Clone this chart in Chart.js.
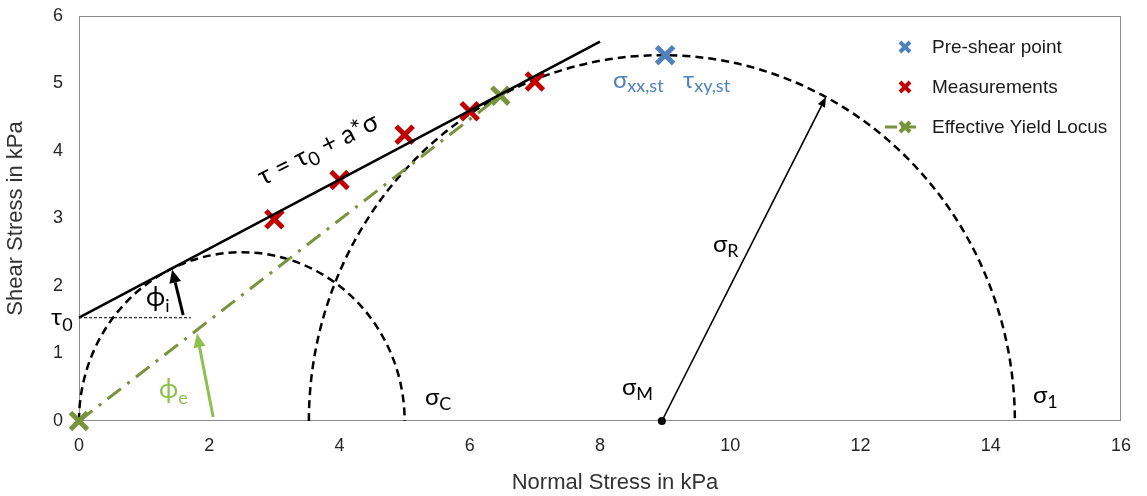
<!DOCTYPE html>
<html><head><meta charset="utf-8">
<script src="https://cdn.jsdelivr.net/npm/chart.js@4.4.1/dist/chart.umd.min.js"></script>
<style>html,body{margin:0;padding:0;background:#fff}#wrap{width:1147px;height:496px;position:relative}</style>
</head><body><div id="wrap"><canvas id="c"></canvas></div>
<script>
// ---- data ----
const preShearX = [9];
const preShearY = [5.42];
const measX = [3, 4, 5, 6, 7];
const measY = [2.99, 3.57, 4.24, 4.59, 5.03];
const eylX = [0, 6.47];
const eylY = [0, 4.82];
const fitX = [0, 8];
const fitY = [1.53, 5.62];
const circleCenters = [2.5, 8.95];
const circleRadii = [2.5, 5.42];
const xTickValues = [0, 2, 4, 6, 8, 10, 12, 14, 16];
const yTickValues = [0, 1, 2, 3, 4, 5, 6];
const seriesNames = ['Pre-shear point', 'Measurements', 'Effective Yield Locus'];
const xTitle = 'Normal Stress in kPa';
const yTitle = 'Shear Stress in kPa';

const BLUE = '#4f81bd', RED = '#c00000', GREEN = '#77933c', LGREEN = '#8fbf4f';
const GF = 'Lato, "Open Sans", sans-serif';
const AF = '"Liberation Sans", Arial, sans-serif';

function pts(xs, ys) { return xs.map((v, i) => ({ x: v, y: ys[i] })); }

function rich(ctx, x, y, segs, color) {
  ctx.fillStyle = color; ctx.textBaseline = 'alphabetic'; ctx.textAlign = 'left';
  let cx = x;
  segs.forEach(s => {
    ctx.font = s[1] + 'px ' + GF;
    ctx.fillText(s[0], cx, y + (s[2] || 0));
    cx += ctx.measureText(s[0]).width;
  });
}

function arrow(ctx, x1, y1, x2, y2, color, w, hl, hw) {
  const ang = Math.atan2(y2 - y1, x2 - x1);
  const bx = x2 - Math.cos(ang) * hl, by = y2 - Math.sin(ang) * hl;
  ctx.strokeStyle = color; ctx.fillStyle = color; ctx.lineWidth = w; ctx.setLineDash([]);
  ctx.beginPath(); ctx.moveTo(x1, y1); ctx.lineTo(bx, by); ctx.stroke();
  ctx.beginPath();
  ctx.moveTo(x2, y2);
  ctx.lineTo(bx + Math.sin(ang) * hw, by - Math.cos(ang) * hw);
  ctx.lineTo(bx - Math.sin(ang) * hw, by + Math.cos(ang) * hw);
  ctx.closePath(); ctx.fill();
}

function xMark(ctx, x, y, r, w, color) {
  ctx.strokeStyle = color; ctx.lineWidth = w; ctx.setLineDash([]);
  ctx.beginPath();
  ctx.moveTo(x - r, y - r); ctx.lineTo(x + r, y + r);
  ctx.moveTo(x - r, y + r); ctx.lineTo(x + r, y - r);
  ctx.stroke();
}

const annot = {
  id: 'annot',
  beforeDatasetsDraw(chart) {
    const { ctx, chartArea: a, scales: { x, y } } = chart;
    ctx.save();
    ctx.strokeStyle = '#8c8c8c'; ctx.lineWidth = 1;
    ctx.strokeRect(Math.round(a.left) + 0.5, Math.round(a.top) + 0.5,
      Math.round(a.right - a.left) - 1, Math.round(a.bottom - a.top) - 1);
    // Mohr circles
    ctx.strokeStyle = '#000'; ctx.lineWidth = 2.5; ctx.setLineDash([8, 5]);
    circleCenters.forEach((c, i) => {
      const r = circleRadii[i];
      const cx = x.getPixelForValue(c), cy = y.getPixelForValue(0);
      const rx = x.getPixelForValue(c + r) - cx, ry = cy - y.getPixelForValue(r);
      ctx.beginPath(); ctx.ellipse(cx, cy, rx, ry, 0, Math.PI, 2 * Math.PI); ctx.stroke();
    });
    // tau0 reference line
    ctx.lineWidth = 1; ctx.setLineDash([3, 2]);
    ctx.beginPath();
    ctx.moveTo(x.getPixelForValue(0), y.getPixelForValue(fitY[0]));
    ctx.lineTo(x.getPixelForValue(1.72), y.getPixelForValue(fitY[0]));
    ctx.stroke();
    ctx.restore();
  },
  afterDatasetsDraw(chart) {
    const { ctx, scales: { x, y } } = chart;
    const X = v => x.getPixelForValue(v), Y = v => y.getPixelForValue(v);
    ctx.save();
    // arrows
    arrow(ctx, X(1.6), Y(1.57), X(1.43), Y(2.24), '#000', 3, 13, 6);
    arrow(ctx, X(2.06), Y(0.06), X(1.81), Y(1.3), LGREEN, 3, 14, 6);
    arrow(ctx, X(circleCenters[1]), Y(0), X(11.47), Y(4.8), '#000', 1.6, 10, 4);
    ctx.fillStyle = '#000';
    ctx.beginPath(); ctx.arc(X(circleCenters[1]), Y(0), 4, 0, 2 * Math.PI); ctx.fill();
    // labels
    rich(ctx, 613, 88, [['σ', 24], ['xx,st', 18, 4]], BLUE);
    rich(ctx, 683, 88, [['τ', 24], ['xy,st', 18, 4]], BLUE);
    rich(ctx, 146, 306, [['ϕ', 26], ['i', 18, 6]], '#000');
    rich(ctx, 159, 398, [['ϕ', 26], ['e', 18, 6]], LGREEN);
    rich(ctx, 51, 325, [['τ', 24], ['0', 18, 6]], '#000');
    rich(ctx, 425, 405, [['σ', 24], ['C', 18, 5]], '#000');
    rich(ctx, 622, 395, [['σ', 24], ['M', 18, 5]], '#000');
    rich(ctx, 1033, 403, [['σ', 24], ['1', 18, 5]], '#000');
    rich(ctx, 713, 252, [['σ', 24], ['R', 18, 5]], '#000');
    ctx.save();
    ctx.translate(263, 186); ctx.rotate(-26.5 * Math.PI / 180);
    rich(ctx, 0, 0, [['τ = τ', 26], ['0', 19, 5], [' + a*σ', 26]], '#000');
    ctx.restore();
    ctx.restore();
  },
  afterDraw(chart) {
    const ctx = chart.ctx;
    ctx.save();
    // x axis title
    ctx.font = '22px ' + AF; ctx.fillStyle = '#333';
    ctx.textAlign = 'center'; ctx.textBaseline = 'middle';
    ctx.fillText(xTitle, 615, 483);
    // legend
    const rows = [47, 87, 127];
    const cols = [BLUE, RED, GREEN];
    ctx.font = '19px ' + AF;
    ctx.textBaseline = 'middle'; ctx.textAlign = 'left';
    rows.forEach((ry, i) => {
      if (i === 2) {
        ctx.strokeStyle = GREEN; ctx.lineWidth = 3; ctx.setLineDash([12, 4, 2, 4]);
        ctx.beginPath(); ctx.moveTo(885, ry); ctx.lineTo(916, ry); ctx.stroke();
      }
      xMark(ctx, 905, ry, 5, 4, cols[i]);
      ctx.fillStyle = '#1a1a1a';
      ctx.fillText(seriesNames[i], 932, ry + 1);
    });
    ctx.restore();
  }
};

Chart.defaults.font.family = AF;
new Chart(document.getElementById('c'), {
  type: 'scatter',
  data: {
    datasets: [
      { label: 'fit', data: pts(fitX, fitY), showLine: true, borderColor: '#000', borderWidth: 2.5,
        pointRadius: 0, clip: false },
      { label: seriesNames[0], data: pts(preShearX, preShearY), showLine: false, pointStyle: 'crossRot',
        pointRadius: 12, pointBorderWidth: 5, borderColor: BLUE, backgroundColor: BLUE, clip: false },
      { label: seriesNames[1], data: pts(measX, measY), showLine: false, pointStyle: 'crossRot',
        pointRadius: 12, pointBorderWidth: 5, borderColor: RED, backgroundColor: RED, clip: false },
      { label: seriesNames[2], data: pts(eylX, eylY), showLine: true, borderColor: GREEN, borderWidth: 3,
        borderDash: [17, 8, 3, 8], pointStyle: 'crossRot', pointRadius: 12, pointBorderWidth: 5,
        pointBorderColor: GREEN, backgroundColor: GREEN, clip: false }
    ]
  },
  options: {
    responsive: true, maintainAspectRatio: false, animation: false,
    layout: { autoPadding: false, padding: { top: 16, right: 26, left: 0, bottom: 0 } },
    plugins: { legend: { display: false }, tooltip: { enabled: false } },
    scales: {
      x: {
        type: 'linear', min: 0, max: 16,
        afterBuildTicks: s => { s.ticks = xTickValues.map(v => ({ value: v })); },
        afterFit: s => { s.height = 75; s.paddingLeft = 0; s.paddingRight = 0; },
        grid: { display: false, drawTicks: false }, border: { display: false },
        ticks: { font: { size: 18 }, color: '#262626', padding: 14, maxRotation: 0 },
        title: { display: false, text: xTitle }
      },
      y: {
        type: 'linear', min: 0, max: 6,
        afterBuildTicks: s => { s.ticks = yTickValues.map(v => ({ value: v })); },
        afterFit: s => { s.width = 79; s.paddingTop = 0; s.paddingBottom = 0; },
        grid: { display: false, drawTicks: false }, border: { display: false },
        ticks: { font: { size: 18 }, color: '#262626', padding: 16 },
        title: { display: true, text: yTitle, font: { size: 22 }, color: '#333',
          padding: { top: 3, bottom: 0 } }
      }
    }
  },
  plugins: [annot]
});
</script></body></html>
